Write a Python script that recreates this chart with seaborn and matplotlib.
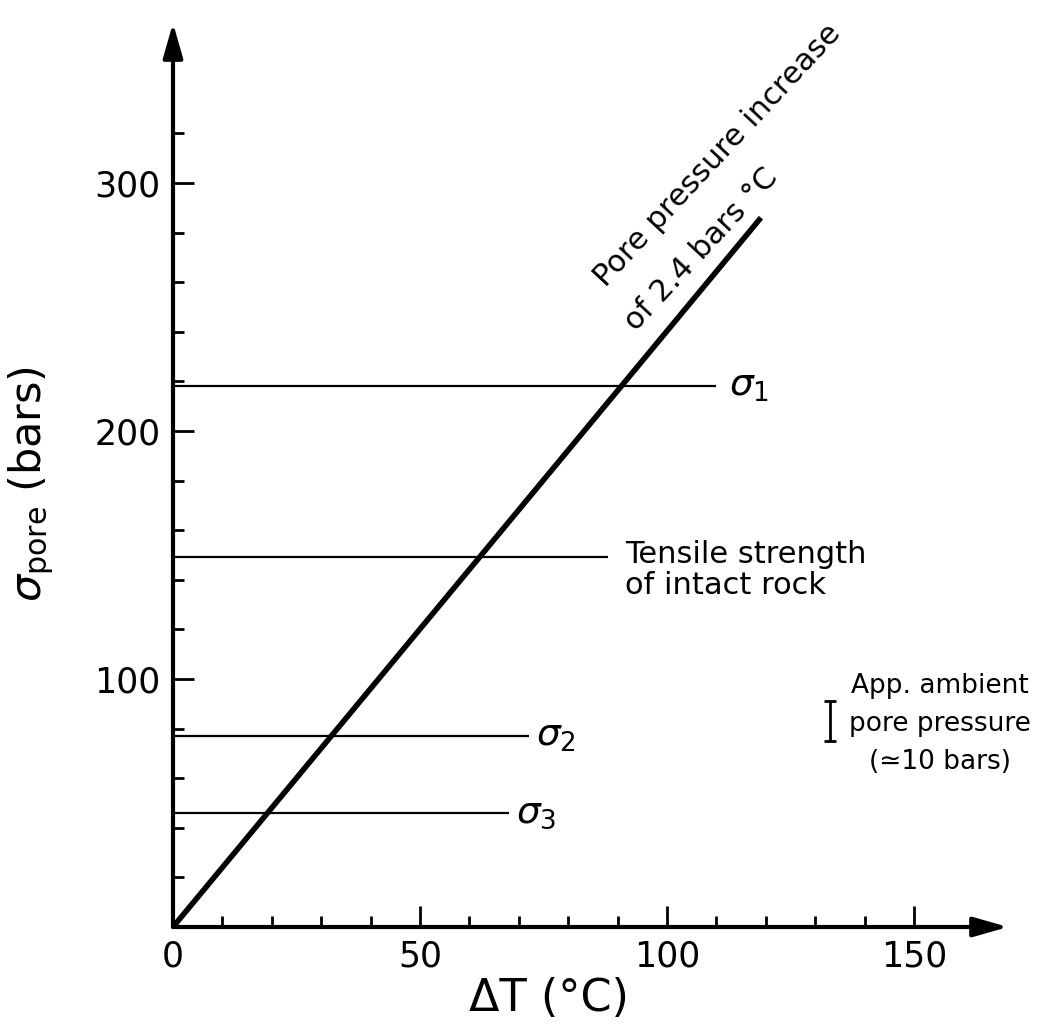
import matplotlib
matplotlib.use("Agg")
import matplotlib.pyplot as plt
import seaborn as sns
import numpy as np

# ---- data ----
dT_line = [0, 119]            # deg C
p_line = [0, 286]             # bars (2.4 bars / deg C)
stress_y = [218, 149, 77, 46]
stress_xend = [110, 88, 72, 68]
stress_labels = [r"$\sigma_1$", "Tensile strength\nof intact rock", r"$\sigma_2$", r"$\sigma_3$"]
ambient_x = [133]
ambient_y = [83]
ambient_err = [8]
x_major = [0, 50, 100, 150]
x_minor = [10, 20, 30, 40, 60, 70, 80, 90, 110, 120, 130, 140]
y_major = [100, 200, 300]
y_minor = [20, 40, 60, 80, 120, 140, 160, 180, 220, 240, 260, 280, 320]

sns.set_theme(style="white")
plt.rcParams["font.family"] = ["DejaVu Sans"]
plt.rcParams["mathtext.fontset"] = "dejavusans"
plt.rcParams["text.color"] = "black"
plt.rcParams["axes.labelcolor"] = "black"

fig = plt.figure(figsize=(10.56, 10.26), dpi=100)
ax = fig.add_axes([173/1056, 1 - 927/1026, 835/1056, (927 - 23)/1026])
ax.set_xlim(0, 169)
ax.set_ylim(0, 364.5)

for s in ax.spines.values():
    s.set_visible(False)

# axes with arrows
arrow = dict(arrowstyle="-|>,head_length=0.7,head_width=0.2", lw=3.0, color="black",
             mutation_scale=30, shrinkA=0, shrinkB=0)
ax.annotate("", xy=(169, 0), xytext=(0, 0), arrowprops=arrow, annotation_clip=False)
ax.annotate("", xy=(0, 364.5), xytext=(0, 0), arrowprops=arrow, annotation_clip=False)

# main line
sns.lineplot(x=dT_line, y=p_line, ax=ax, color="black", lw=4.0, solid_capstyle="butt")

# horizontal stress lines
ax.hlines(stress_y, 0, stress_xend, color="black", lw=1.6)

# labels for stress lines
ax.text(stress_xend[0] + 2.5, stress_y[0], stress_labels[0], fontsize=27, va="center", ha="left")
ax.text(stress_xend[1] + 3.5, stress_y[1] + 7, stress_labels[1], fontsize=22, va="top", ha="left",
        linespacing=1.1)
ax.text(stress_xend[2] + 1.5, stress_y[2], stress_labels[2], fontsize=27, va="center", ha="left")
ax.text(stress_xend[3] + 1.5, stress_y[3], stress_labels[3], fontsize=27, va="center", ha="left")

# ambient pore pressure bar
ax.errorbar(ambient_x, ambient_y, yerr=ambient_err, fmt="none", ecolor="black",
            elinewidth=2.0, capsize=4.5, capthick=2.0)
ax.text(155.2, 82, "App. ambient\npore pressure\n(\u224310 bars)", fontsize=19,
        ha="center", va="center", linespacing=1.6, clip_on=False)

# diagonal annotation
ax.text(135.4, 360, "Pore pressure increase", fontsize=22, rotation=47,
        rotation_mode="anchor", ha="right", va="baseline", clip_on=False)
ax.text(122.6, 302, "of 2.4 bars \u00b0C", fontsize=22, rotation=47,
        rotation_mode="anchor", ha="right", va="baseline", clip_on=False)

# ticks
ax.set_xticks(x_major)
ax.set_xticklabels([str(v) for v in x_major])
ax.set_xticks(x_minor, minor=True)
ax.set_yticks(y_major)
ax.set_yticklabels([str(v) for v in y_major])
ax.set_yticks(y_minor, minor=True)
ax.tick_params(axis="both", which="major", direction="in", length=15, width=2,
               labelsize=25, color="black", labelcolor="black", pad=9)
ax.tick_params(axis="both", which="minor", direction="in", length=8, width=2, color="black")
ax.tick_params(bottom=True, left=True, which="both")
ax.grid(False)

ax.set_xlabel("\u0394T (\u00b0C)", fontsize=32, color="black")
ax.xaxis.set_label_coords(0.45, -0.055)
ax.set_ylabel(r"$\sigma_{\rm pore}$ (bars)", fontsize=31, color="black")
ax.yaxis.set_label_coords(-0.14, 0.49)

fig.savefig("out.png", dpi=100, facecolor="white")
